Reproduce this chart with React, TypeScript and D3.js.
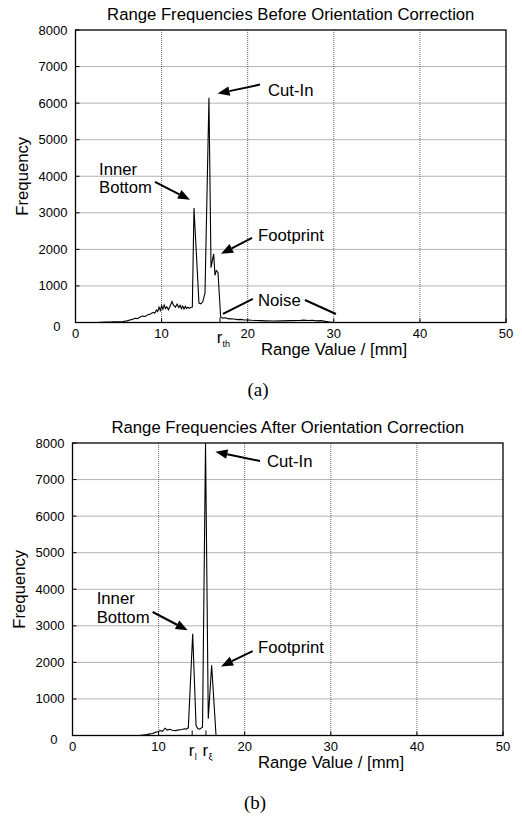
import React from 'react';
import * as d3 from 'd3';

const xTicks = [0, 10, 20, 30, 40, 50];
const yTicks = [0, 1000, 2000, 3000, 4000, 5000, 6000, 7000, 8000];

const beforeRange = [2.4, 3.0, 3.5, 4.0, 4.5, 5.0, 5.5, 6.0, 6.3, 6.6, 6.9, 7.2, 7.5, 7.8, 8.1, 8.4, 8.7, 9.0, 9.2, 9.4, 9.55, 9.7, 9.85, 10.0, 10.15, 10.3, 10.45, 10.6, 10.8, 11.0, 11.2, 11.4, 11.6, 11.8, 12.0, 12.15, 12.3, 12.45, 12.6, 12.75, 12.9, 13.05, 13.2, 13.4, 13.57, 13.76, 14.34, 14.55, 14.77, 15.04, 15.5, 15.74, 16.05, 16.2, 16.35, 16.55, 16.86, 17.1, 17.4, 17.7, 18.0, 18.4, 18.8, 19.2, 19.6, 20.0, 20.5, 21.0, 21.5, 22.0, 23.0, 24.0, 25.0, 26.0, 26.5, 27.0, 27.5, 28.0, 28.5, 29.0, 29.5, 30.0];
const beforeFreq = [0, 5, 10, 12, 18, 22, 28, 45, 70, 85, 115, 105, 150, 175, 165, 215, 235, 280, 255, 345, 300, 420, 330, 460, 360, 480, 380, 430, 350, 460, 570, 470, 420, 500, 410, 470, 380, 450, 370, 440, 380, 420, 390, 410, 420, 3130, 530, 510, 560, 800, 6150, 1500, 1880, 1290, 1420, 1370, 150, 120, 130, 105, 100, 95, 80, 85, 70, 70, 60, 55, 50, 45, 40, 45, 50, 55, 65, 55, 60, 45, 50, 30, 15, 5];

const afterRange = [7.84, 8.2, 8.6, 9.0, 9.3, 9.6, 9.9, 10.2, 10.45, 10.75, 11.0, 11.3, 11.6, 11.9, 12.1, 12.4, 12.7, 13.0, 13.2, 13.45, 13.96, 14.35, 14.55, 14.75, 15.1, 15.45, 15.77, 16.16, 16.67];
const afterFreq = [0, 12, 25, 45, 55, 85, 100, 135, 115, 200, 150, 170, 145, 130, 140, 155, 165, 185, 175, 210, 2780, 270, 190, 175, 230, 8000, 460, 1920, 0];

// annotations in data units: [label lines], text x, text baseline y, arrow start, arrow end, has head
type Ann = { lines: string[]; tx: number; ty: number; x1: number; y1: number; x2: number; y2: number; head: boolean };

const beforeAnns: Ann[] = [
  { lines: ['Cut-In'], tx: 22.36, ty: 6200, x1: 21.43, y1: 6507, x2: 16.5, y2: 6260, head: true },
  { lines: ['Inner', 'Bottom'], tx: 2.73, ty: 4040, x1: 9.23, y1: 3849, x2: 13.3, y2: 3356, head: true },
  { lines: ['Footprint'], tx: 21.2, ty: 2233, x1: 20.5, y1: 2315, x2: 16.9, y2: 1877, head: true },
  { lines: ['Noise'], tx: 21.2, ty: 452, x1: 20.6, y1: 644, x2: 17.13, y2: 233, head: false },
  { lines: [], tx: 0, ty: 0, x1: 26.65, y1: 616, x2: 30.25, y2: 233, head: false },
];
const afterAnns: Ann[] = [
  { lines: ['Cut-In'], tx: 22.59, ty: 7342, x1: 21.78, y1: 7507, x2: 16.6, y2: 7762, head: true },
  { lines: ['Inner', 'Bottom'], tx: 2.81, ty: 3589, x1: 9.31, y1: 3378, x2: 13.38, y2: 2877, head: true },
  { lines: ['Footprint'], tx: 21.54, ty: 2247, x1: 20.93, y1: 2310, x2: 17.25, y2: 1890, head: true },
];

const beforeMarks = [{ v: 16.78, sub: 'th' }];
const afterMarks = [{ v: 13.9, sub: 'l' }, { v: 15.5, sub: 'ξ' }];

const SANS = '"Liberation Sans", Arial, Helvetica, sans-serif';
const FS = 16.7;

function Arrow({ x1, y1, x2, y2, head }: { x1: number; y1: number; x2: number; y2: number; head: boolean }) {
  const ang = Math.atan2(y2 - y1, x2 - x1);
  const L = 12, Wh = 4.8;
  const bx = x2 - L * Math.cos(ang), by = y2 - L * Math.sin(ang);
  const px = -Math.sin(ang) * Wh, py = Math.cos(ang) * Wh;
  return (
    <g>
      <line x1={x1} y1={y1} x2={head ? bx : x2} y2={head ? by : y2} stroke="#000" strokeWidth={2} />
      {head && <polygon points={`${x2},${y2} ${bx + px},${by + py} ${bx - px},${by - py}`} fill="#000" />}
    </g>
  );
}

function Panel({ left, top, title, range, freq, anns, marks, caption }:
  { left: number; top: number; title: string; range: number[]; freq: number[]; anns: Ann[]; marks: { v: number; sub: string }[]; caption: string }) {
  const W = 430.5, H = 292.5;
  const x = d3.scaleLinear().domain([0, 50]).range([left, left + W]);
  const y = d3.scaleLinear().domain([0, 8000]).range([top + H, top]);
  const line = d3.line<number>().x((_, i) => x(range[i])).y(d => y(Math.min(d, 8000)));
  const bottom = top + H;
  const clipId = 'clip' + Math.round(top);
  return (
    <g>
      <defs>
        <clipPath id={clipId}><rect x={left} y={top} width={W} height={H} /></clipPath>
      </defs>
      <text x={left + W / 2} y={top - 10} textAnchor="middle" fontFamily={SANS} fontSize={FS}>{title}</text>
      {xTicks.slice(1, -1).map(t => (
        <line key={'gx' + t} x1={x(t)} x2={x(t)} y1={top} y2={bottom} stroke="#666" strokeWidth={1} strokeDasharray="1,1" />
      ))}
      {yTicks.slice(1, -1).map(t => (
        <line key={'gy' + t} x1={left} x2={left + W} y1={y(t)} y2={y(t)} stroke="#666" strokeWidth={1} strokeDasharray="1,1" />
      ))}
      {xTicks.map(t => (
        <line key={'tx' + t} x1={x(t)} x2={x(t)} y1={bottom} y2={bottom - 4} stroke="#000" />
      ))}
      {yTicks.map(t => (
        <line key={'ty' + t} x1={left} x2={left + 4} y1={y(t)} y2={y(t)} stroke="#000" />
      ))}
      <path d={line(freq) || ''} fill="none" stroke="#000" strokeWidth={1.1} clipPath={`url(#${clipId})`} />
      <rect x={left} y={top} width={W} height={H} fill="none" stroke="#000" strokeWidth={1.3} />
      {xTicks.map(t => (
        <text key={'lx' + t} x={x(t)} y={bottom + 15} textAnchor="middle" fontFamily={SANS} fontSize={13}>{t}</text>
      ))}
      {yTicks.map(t => (
        t === 0 ?
          <text key={'ly' + t} x={left - 15} y={bottom + 8} textAnchor="end" fontFamily={SANS} fontSize={13}>{t}</text> :
          <text key={'ly' + t} x={left - 8} y={y(t) + 4.5} textAnchor="end" fontFamily={SANS} fontSize={13}>{t}</text>
      ))}
      {marks.map(m => (
        <g key={'m' + m.v}>
          <line x1={x(m.v)} x2={x(m.v)} y1={bottom} y2={bottom - 5} stroke="#000" />
          <text x={x(m.v) - 0.5} y={bottom + 20} textAnchor="middle" fontFamily={SANS} fontSize={17}>r</text>
          <text x={x(m.v) + 2.5} y={bottom + 24} textAnchor="start" fontFamily={SANS} fontSize={9}>{m.sub}</text>
        </g>
      ))}
      <text x={left + 258.5} y={bottom + 32.5} textAnchor="middle" fontFamily={SANS} fontSize={FS}>Range Value / [mm]</text>
      <text transform={`translate(${left - 48},${top + H / 2}) rotate(-90)`} textAnchor="middle" fontFamily={SANS} fontSize={FS}>Frequency</text>
      {anns.map((a, i) => (
        <g key={'a' + i}>
          <Arrow x1={x(a.x1)} y1={y(a.y1)} x2={x(a.x2)} y2={y(a.y2)} head={a.head} />
          {a.lines.map((s, j) => (
            <text key={j} x={x(a.tx)} y={y(a.ty) + j * 18.5} fontFamily={SANS} fontSize={FS}>{s}</text>
          ))}
        </g>
      ))}
      <text x={left + 182.5} y={bottom + 73.5} textAnchor="middle" fontFamily='"Liberation Serif", "DejaVu Serif", serif' fontSize={19}>{caption}</text>
    </g>
  );
}

export default function App() {
  return (
    <svg width={522} height={818} style={{ position: 'absolute', left: 0, top: 0, background: '#fff' }}>
      <rect x={0} y={0} width={522} height={818} fill="#fff" />
      <Panel left={75.5} top={30} title="Range Frequencies Before Orientation Correction" range={beforeRange} freq={beforeFreq} anns={beforeAnns} marks={beforeMarks} caption="(a)" />
      <Panel left={72.5} top={443} title="Range Frequencies After Orientation Correction" range={afterRange} freq={afterFreq} anns={afterAnns} marks={afterMarks} caption="(b)" />
    </svg>
  );
}
